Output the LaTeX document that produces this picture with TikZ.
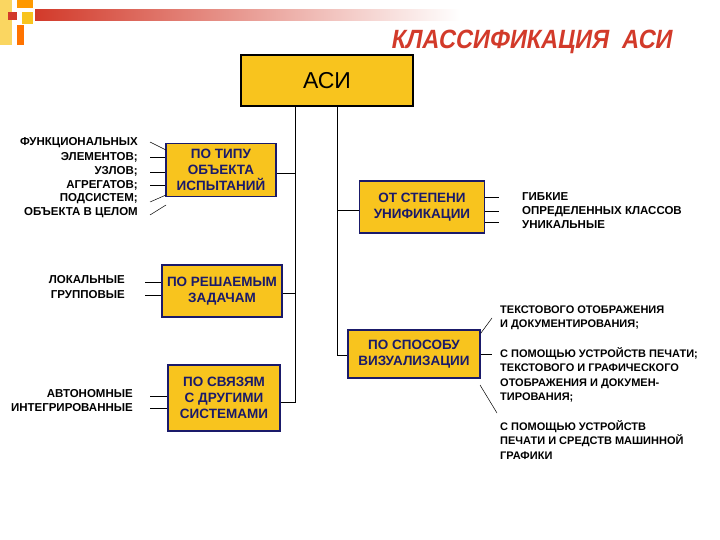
\documentclass[tikz,border=0pt]{standalone}
\usepackage{fontspec}
\setmainfont{Liberation Sans}
\newfontfamily\titlefont[FakeSlant=0.2]{Liberation Sans}
\begin{document}
\begin{tikzpicture}[x=1pt,y=-1pt]
\definecolor{boxy}{HTML}{F8C41E}
\definecolor{navy}{HTML}{1A1A6A}
\definecolor{barred}{HTML}{D23A2A}
\tikzset{
 cat/.style={draw=navy,line width=1.6pt,fill=boxy,text=navy,font=\bfseries\fontsize{13.5}{16}\selectfont,align=center,inner sep=0pt},
 lab/.style={font=\bfseries\fontsize{11.5}{14}\selectfont,inner sep=0pt},
 ln/.style={line width=0.5pt}
}
\useasboundingbox (0,0) rectangle (720,540);
% decoration
\shade[left color=barred,right color=white] (35,10) rectangle (460,21);
\fill[boxy!70!white] (0,0) rectangle (12,45);
\fill[orange!80!yellow] (17,0) rectangle (33,8);
\fill[barred] (8,12) rectangle (17,20);
\fill[boxy] (22,12) rectangle (33,24);
\fill[orange!90!red] (17,25) rectangle (24,45);
\node[text=barred,font=\titlefont\bfseries\fontsize{24}{26}\selectfont,xscale=0.98,yscale=1.1] (title) at (531,42) {КЛАССИФИКАЦИЯ\ \ АСИ};
% root
\node[draw=black,line width=2pt,fill=boxy,minimum width=172pt,minimum height=51pt,font=\fontsize{23}{26}\selectfont] (root) at (327,81) {АСИ};
% category boxes
\node[cat,minimum width=110pt,minimum height=53pt] (b1) at (221,170) {ПО ТИПУ\\ОБЪЕКТА\\ИСПЫТАНИЙ};
\node[cat,minimum width=120pt,minimum height=52pt] (b2) at (222,291) {ПО РЕШАЕМЫМ\\ЗАДАЧАМ};
\node[cat,minimum width=112pt,minimum height=66pt] (b3) at (224,398) {ПО СВЯЗЯМ\\С ДРУГИМИ\\СИСТЕМАМИ};
\node[cat,minimum width=125pt,minimum height=52pt] (b4) at (422,207) {ОТ СТЕПЕНИ\\УНИФИКАЦИИ};
\node[cat,minimum width=132pt,minimum height=48pt] (b5) at (414,354) {ПО СПОСОБУ\\ВИЗУАЛИЗАЦИИ};
% trunks
\coordinate (tl) at (295,107); \coordinate (tr) at (337,107);
\draw[ln] (tl) -- (295,402) -- (b3.east |- 0,402);
\draw[ln] (295,173) -- (b1.east |- 0,173);
\draw[ln] (295,293) -- (b2.east |- 0,293);
\draw[ln] (tr) -- (337,355) -- (b5.west |- 0,355);
\draw[ln] (337,210) -- (b4.west |- 0,210);
% left labels b1
\foreach \t/\y [count=\i] in {ФУНКЦИОНАЛЬНЫХ/143,ЭЛЕМЕНТОВ;/157,УЗЛОВ;/171,АГРЕГАТОВ;/185,ПОДСИСТЕМ;/199,ОБЪЕКТА В ЦЕЛОМ/213}
  \node[lab,anchor=east] (l\i) at (138,\y) {\t};
\draw[ln] (150,142) -- (166,150);
\draw[ln] (150,157) -- (b1.west |- 0,157);
\draw[ln] (150,172) -- (b1.west |- 0,172);
\draw[ln] (150,185) -- (b1.west |- 0,185);
\draw[ln] (150,202) -- (166,195);
\draw[ln] (150,215) -- (166,205);
% b2
\node[lab,anchor=east] (m1) at (125,280) {ЛОКАЛЬНЫЕ};
\node[lab,anchor=east] (m2) at (125,295) {ГРУППОВЫЕ};
\draw[ln] (145,282) -- (b2.west |- 0,282);
\draw[ln] (145,295) -- (b2.west |- 0,295);
% b3
\node[lab,anchor=east] (n1) at (133,394) {АВТОНОМНЫЕ};
\node[lab,anchor=east] (n2) at (133,408) {ИНТЕГРИРОВАННЫЕ};
\draw[ln] (150,396) -- (b3.west |- 0,396);
\draw[ln] (150,408) -- (b3.west |- 0,408);
% b4
\node[lab,anchor=west,align=left] (r1) at (522,211) {ГИБКИЕ\\ОПРЕДЕЛЕННЫХ КЛАССОВ\\УНИКАЛЬНЫЕ};
\draw[ln] (b4.east |- 0,197) -- (499,197);
\draw[ln] (b4.east |- 0,211) -- (499,211);
\draw[ln] (b4.east |- 0,222) -- (499,222);
% b5
\tikzset{vl/.style={lab,anchor=west,align=left,font=\bfseries\fontsize{11}{14.5}\selectfont}}
\node[vl] (v1) at (500,318) {ТЕКСТОВОГО ОТОБРАЖЕНИЯ\\И ДОКУМЕНТИРОВАНИЯ;};
\node[vl] (v2) at (500,375) {С ПОМОЩЬЮ УСТРОЙСТВ ПЕЧАТИ;\\ТЕКСТОВОГО И ГРАФИЧЕСКОГО\\ОТОБРАЖЕНИЯ И ДОКУМЕН-\\ТИРОВАНИЯ;};
\node[vl] (v3) at (500,440) {С ПОМОЩЬЮ УСТРОЙСТВ\\ПЕЧАТИ И СРЕДСТВ МАШИННОЙ\\ГРАФИКИ};
\draw[ln] (b5.north east) ++(0,4) -- (492,318);
\draw[ln] (b5.east) -- (492,354);
\draw[ln] (480,385) -- (497,413);
\end{tikzpicture}
\end{document}
